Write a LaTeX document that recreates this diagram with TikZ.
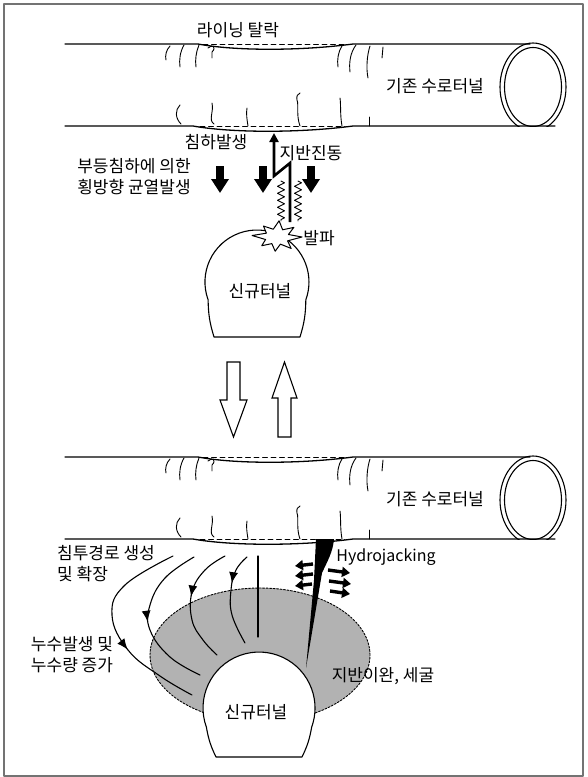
\documentclass[tikz,border=0pt]{standalone}
\usepackage{fontspec}
\setmainfont{Noto Sans CJK KR}
\usetikzlibrary{arrows.meta,decorations.pathmorphing,decorations.markings}

\begin{document}
\begin{tikzpicture}[
    x=1pt, y=1pt,
    line cap=round,
    line join=round,
    every node/.style={font=\fontsize{17}{21}\selectfont, inner sep=1pt},
    pipe/.style={line width=1.3pt},
    hidden/.style={line width=0.9pt, dashed, dash pattern=on 5pt off 3.5pt},
    crack/.style={line width=0.9pt},
    sink/.style={line width=8pt, line cap=butt, -{Triangle[length=14pt,width=17pt]}},
    tremor/.style={line width=2.6pt, line join=miter, line cap=butt, -{Triangle[length=9pt,width=9pt]}},
    wave/.style={line width=0.9pt, decoration={zigzag, segment length=7pt, amplitude=3.5pt}, decorate},
    tunnel/.style={line width=1.1pt, fill=white},
    hollow/.style={line width=1.1pt, fill=white, line join=miter},
    zone/.style={fill=black!30, line width=0.9pt, dash pattern=on 2pt off 1.5pt},
    flow/.style={line width=1.1pt, postaction={decorate},
        decoration={markings, mark=at position #1 with {\arrow{Latex[length=11pt,width=9pt]}}}},
    push/.style={line width=3.4pt, line cap=butt, -{Triangle[length=8pt,width=10pt]}},
    frame/.style={draw=black!55, line width=1.2pt}
]

\useasboundingbox (0,0) rectangle (587,-777);
\draw[frame] (4,-4) rectangle (583,-776);

% -------------------------------------------------
% 기존 수로터널 (위, 아래 두 번 그림)
% -------------------------------------------------

\foreach \dy/\tag in {0/up, -413/down} {
\begin{scope}[yshift=\dy]

  % 윗면, 아랫면 (처진 부분 포함)
  \draw[pipe] (65,-44) -- (198,-44) .. controls (235,-51) and (300,-51) .. (353,-44) -- (530,-44);
  \draw[pipe] (65,-126) -- (193,-126) .. controls (232,-133) and (300,-133) .. (353,-126) -- (555,-126);

  % 원래 위치
  \draw[hidden] (203,-44) -- (345,-44);
  \draw[hidden] (200,-126) -- (345,-126);

  % 끝단 링
  \begin{scope}
    \clip (490,-38) rectangle (575,-126);
    \draw[line width=1.1pt] (533,-87) ellipse [x radius=33pt, y radius=44pt];
    \draw[line width=1.1pt] (533,-87) ellipse [x radius=28.5pt, y radius=39.5pt];
  \end{scope}

  % 균열
  \draw[crack] (170,-46) .. controls (166,-50) and (165,-56) .. (166,-60);
  \draw[crack] (184,-45) .. controls (180,-52) and (179,-60) .. (180,-67);
  \draw[crack] (199,-45) .. controls (196,-52) and (195,-60) .. (196,-67);
  \draw[crack] (208,-48) .. controls (212,-44) and (217,-47) .. (212,-52) -- (212,-58);

  \draw[crack] (342,-46) .. controls (338,-52) and (337,-60) .. (338,-67);
  \draw[crack] (356,-45) .. controls (350,-53) and (349,-63) .. (350,-72);
  \draw[crack] (370,-46) .. controls (367,-55) and (366,-68) .. (368,-78);
  \draw[crack] (383,-47) -- (382,-58);

  \draw[crack] (181,-124) .. controls (175,-118) and (175,-110) .. (180,-105);
  \draw[crack] (214,-124) .. controls (208,-120) and (214,-112) .. (212,-103);
  \draw[crack] (248,-126) .. controls (247,-120) and (246,-113) .. (247,-108);
  \draw[crack] (300,-126) .. controls (296,-115) and (299,-105) .. (297,-100)
               .. controls (296,-96) and (298,-94) .. (300,-93);
  \draw[crack] (342,-126) .. controls (340,-115) and (341,-105) .. (340,-98);
  \draw[crack] (369,-126) -- (369,-117);

  \node (old\tag) at (435,-86) {기존 수로터널};

\end{scope}
}

% -------------------------------------------------
% 위: 발파에 의한 영향
% -------------------------------------------------

\node (lining) at (238,-30) {라이닝 탈락};
\node (settle) at (216,-142) {침하발생};
\node (vibr)   at (311,-153) {지반진동};
\node[align=left] (uneven) at (134,-177) {부등침하에 의한\\횡방향 균열발생};

\draw[sink] (220,-166) -- (220,-193);
\draw[sink] (263,-166) -- (263,-193);
\draw[sink] (311,-166) -- (311,-193);

\draw[tremor] (290,-222) -- (290,-163) -- (274,-176) -- (274,-133);
\draw[wave] (281,-181) -- (281,-221);
\draw[wave] (298,-181) -- (298,-221);

% 신규터널
\draw[tunnel] (208.1,-299.8) arc[start angle=200, end angle=-20, radius=52pt]
    to[bend left=8] (300,-337) -- (214,-337) to[bend left=8] (208.1,-299.8) -- cycle;
\node (newup) at (260,-291) {신규터널};

% 발파
\draw[fill=white, line width=1pt, shift={(277,-237)}, yscale=0.68]
    (0:25pt) -- (18:12pt) -- (40:22pt) -- (62:12pt) -- (85:24pt) -- (108:12pt)
    -- (130:21pt) -- (152:12pt) -- (175:25pt) -- (198:12pt) -- (220:20pt)
    -- (242:11pt) -- (265:21pt) -- (288:11pt) -- (310:22pt) -- (332:12pt) -- cycle;
\node (blast) at (319,-238) {발파};

% -------------------------------------------------
% 가운데 화살표
% -------------------------------------------------

\draw[hollow] (227,-362) -- (240,-362) -- (240,-400) -- (247,-400) -- (233.5,-437)
    -- (220,-400) -- (227,-400) -- cycle;
\draw[hollow] (278,-437) -- (291,-437) -- (291,-398) -- (297,-398) -- (284.5,-362)
    -- (272,-398) -- (278,-398) -- cycle;

% -------------------------------------------------
% 아래: 누수와 지반이완
% -------------------------------------------------

\draw[zone] (260,-655) ellipse [x radius=110pt, y radius=67pt];

% 침투경로
\draw[flow=0.62] plot[smooth, tension=0.7] coordinates
    {(173,-556) (125,-585) (112,-615) (128,-650) (160,-676) (192,-695)};
\draw[flow=0.52] plot[smooth, tension=0.7] coordinates
    {(194,-557) (165,-578) (150,-605) (150,-630) (170,-657) (200,-675)};
\draw[flow=0.45] plot[smooth, tension=0.7] coordinates
    {(225,-556) (205,-570) (192,-592) (192,-620) (203,-640) (217,-655)};
\draw[flow=0.33] plot[smooth, tension=0.7] coordinates
    {(247,-557) (236,-570) (231,-590) (232,-615) (245,-643)};
\draw[line width=1.1pt] (258,-556) -- (258,-637);

% Hydrojacking
\fill (316,-539) -- (334,-539) .. controls (333,-552) and (327,-562) .. (322,-573)
    -- (306,-668) -- (314,-580) -- cycle;
\draw[push] (313,-564) -- (295,-566);
\draw[push] (313,-574) -- (295,-576);
\draw[push] (312,-584) -- (295,-586);
\draw[push] (328,-570) -- (350,-573);
\draw[push] (329,-581) -- (351,-584);
\draw[push] (330,-591) -- (350,-594);

% 신규터널
\draw[tunnel] (206.4,-727.2) arc[start angle=200, end angle=-20, radius=56pt]
    to[bend left=8] (302,-757) -- (216,-757) to[bend left=8] (206.4,-727.2) -- cycle;
\node (newdown) at (256,-712) {신규터널};

\node[font=\fontsize{16}{20}\selectfont] (hydro) at (386,-557) {Hydrojacking};
\node (loose)  at (383,-676) {지반이완, 세굴};
\node[align=left, anchor=west] (path) at (56,-564) {침투경로 생성\\및 확장};
\node[align=center] (leak) at (72,-655) {누수발생 및\\누수량 증가};

\end{tikzpicture}
\end{document}
